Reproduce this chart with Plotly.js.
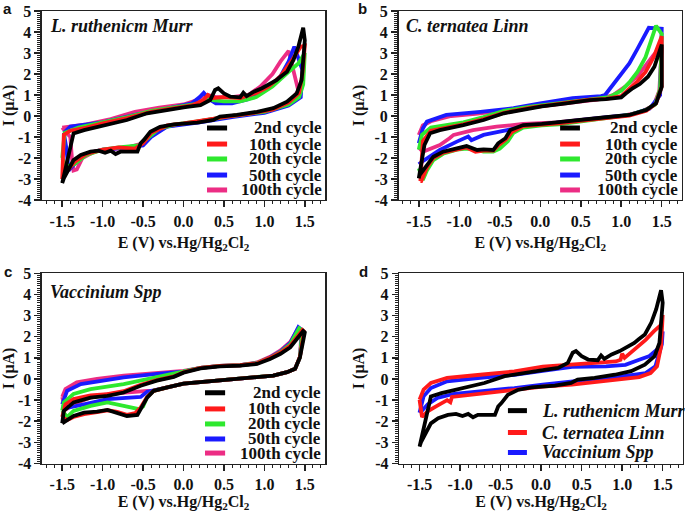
<!DOCTYPE html>
<html>
<head>
<meta charset="utf-8">
<script src="https://cdn.plot.ly/plotly-3.0.1.min.js"></script>
<style>
  html, body { margin: 0; padding: 0; background: #fff; }
  #plot { width: 685px; height: 512px; }
</style>
</head>
<body>
<div id="plot"></div>
<script>
// tick labels (plain hyphen like the original figure)
var eTicks = [-1.5, -1.0, -0.5, 0.0, 0.5, 1.0, 1.5];
var eTickText = ["-1.5", "-1.0", "-0.5", "0.0", "0.5", "1.0", "1.5"];
var iTicks = [-4, -3, -2, -1, 0, 1, 2, 3, 4, 5];
var iTickText = ["-4", "-3", "-2", "-1", "0", "1", "2", "3", "4", "5"];

var cycleNames = ["2nd cycle", "10th cycle", "20th cycle", "50th cycle", "100th cycle"];
var speciesNames = ["L. ruthenicm Murr", "C. ternatea Linn", "Vaccinium Spp"];
var cycleColors = ["#000000", "#ff1a1a", "#2ee82e", "#1a1aff", "#ec2d84"];

// ---- (a) L. ruthenicm Murr ----
var a2E = [-1.50,-1.36,-1.23,-0.94,-0.70,-0.45,-0.12,0.02,0.21,0.33,
           0.39,0.43,0.50,0.58,0.70,0.74,0.78,0.87,0.97,1.07,
           1.15,1.20,1.28,1.36,1.42,1.48,1.50,1.46,1.40,1.28,
           1.11,0.91,0.66,0.45,0.37,0.17,0.02,-0.12,-0.29,-0.41,
           -0.49,-0.53,-0.57,-0.66,-0.78,-0.84,-0.90,-0.97,-1.05,-1.15,
           -1.27,-1.36,-1.42,-1.48,-1.50];
var a2I = [-3.20,-0.83,-0.67,-0.43,-0.19,0.13,0.36,0.42,0.52,0.76,
           1.24,1.32,1.08,0.92,0.89,1.11,0.95,1.16,1.32,1.52,
           1.71,1.87,2.11,2.67,3.30,4.20,3.60,1.71,1.08,0.68,
           0.37,0.20,0.05,-0.03,-0.19,-0.32,-0.38,-0.40,-0.52,-0.75,
           -1.14,-1.30,-1.70,-1.70,-1.70,-1.81,-1.65,-1.75,-1.65,-1.70,
           -1.86,-2.10,-2.50,-2.97,-3.20];
var a10E = [-1.50,-1.48,-1.40,-1.20,-1.00,-0.70,-0.40,-0.10,0.10,0.25,
            0.30,0.36,0.50,0.70,0.90,1.05,1.20,1.35,1.45,1.50,
            1.47,1.43,1.30,1.10,0.80,0.50,0.20,0.00,-0.20,-0.40,
            -0.50,-0.60,-0.80,-1.00,-1.20,-1.35,-1.45,-1.50];
var a10I = [-3.00,-0.90,-0.70,-0.55,-0.35,-0.10,0.20,0.40,0.50,0.75,
            1.00,0.85,0.90,0.85,1.10,1.40,1.90,2.70,3.30,3.35,
            2.00,1.10,0.65,0.30,0.10,-0.05,-0.25,-0.35,-0.45,-0.80,
            -1.30,-1.55,-1.50,-1.60,-1.80,-2.20,-2.70,-3.00];
var a20E = [-1.50,-1.47,-1.30,-1.00,-0.70,-0.40,-0.10,0.20,0.30,0.36,
            0.50,0.70,0.90,1.10,1.30,1.42,1.50,1.48,1.43,1.30,
            1.00,0.60,0.20,-0.10,-0.30,-0.45,-0.55,-0.80,-1.00,-1.20,
            -1.35,-1.45,-1.50];
var a20I = [-2.00,-0.80,-0.55,-0.30,-0.05,0.25,0.42,0.60,0.90,0.75,
            0.70,0.70,0.90,1.40,2.10,2.50,3.00,1.50,0.90,0.55,
            0.20,0.00,-0.25,-0.40,-0.60,-1.10,-1.40,-1.50,-1.60,-1.85,
            -2.30,-2.40,-2.00];
var a50E = [-1.48,-1.40,-1.00,-0.60,-0.20,0.10,0.20,0.25,0.32,0.40,
            0.60,0.80,1.00,1.20,1.30,1.37,1.47,1.45,1.30,1.00,
            0.60,0.20,-0.20,-0.40,-0.50,-0.70,-1.00,-1.20,-1.35,-1.42,
            -1.45,-1.48];
var a50I = [-0.80,-0.50,-0.30,0.05,0.35,0.60,0.90,1.10,0.80,0.60,
            0.60,0.80,1.20,1.90,2.60,3.30,2.20,0.90,0.50,0.15,
            -0.05,-0.30,-0.50,-1.00,-1.40,-1.50,-1.60,-1.80,-2.30,-2.60,
            -1.50,-0.80];
var a100E = [-1.50,-1.20,-0.90,-0.60,-0.30,0.00,0.20,0.30,0.40,0.60,
             0.80,0.95,1.10,1.20,1.30,1.42,1.30,1.00,0.60,0.20,
             -0.20,-0.40,-0.50,-0.70,-0.95,-1.10,-1.25,-1.32,-1.36,-1.38,
             -1.40,-1.50];
var a100I = [-0.55,-0.40,-0.15,0.20,0.40,0.55,0.80,1.00,0.90,0.90,
             1.00,1.40,2.00,2.60,3.10,1.20,0.60,0.20,0.00,-0.25,
             -0.50,-0.90,-1.30,-1.50,-1.60,-1.70,-2.00,-2.55,-2.60,-2.00,
             -1.00,-0.55];

// ---- (b) C. ternatea Linn ----
var b2E = [-1.50,-1.43,-1.36,-1.24,-0.95,-0.70,-0.45,-0.12,0.02,0.32,
           0.61,0.81,1.00,1.06,1.14,1.23,1.33,1.41,1.50,1.50,
           1.43,1.31,1.10,0.81,0.52,0.23,0.02,-0.21,-0.37,-0.43,
           -0.52,-0.58,-0.70,-0.78,-0.91,-1.03,-1.20,-1.32,-1.40,-1.49,
           -1.50];
var b2I = [-2.97,-1.38,-0.82,-0.67,-0.43,-0.19,0.13,0.37,0.46,0.60,
           0.76,0.80,0.89,1.08,1.32,1.52,1.87,2.35,3.40,1.40,
           0.60,0.29,0.05,-0.06,-0.19,-0.32,-0.38,-0.43,-0.67,-1.06,
           -1.30,-1.62,-1.59,-1.62,-1.43,-1.54,-1.70,-1.94,-2.33,-2.81,
           -2.97];
var b10E = [-1.48,-1.45,-1.35,-1.20,-0.95,-0.70,-0.45,-0.12,0.02,0.32,
            0.61,0.81,1.00,1.10,1.20,1.30,1.40,1.50,1.50,1.43,
            1.31,1.10,0.81,0.52,0.23,0.02,-0.21,-0.35,-0.42,-0.52,
            -0.58,-0.70,-0.80,-0.91,-1.03,-1.20,-1.32,-1.40,-1.47,-1.48];
var b10I = [-3.10,-1.20,-0.70,-0.60,-0.40,-0.15,0.15,0.40,0.48,0.62,
            0.78,0.82,0.95,1.30,1.65,2.10,2.80,3.80,1.40,0.60,
            0.25,0.02,-0.08,-0.22,-0.35,-0.40,-0.48,-0.75,-1.10,-1.40,
            -1.65,-1.65,-1.70,-1.50,-1.60,-1.75,-2.00,-2.45,-3.10,-3.10];
var b20E = [-1.50,-1.46,-1.35,-1.20,-0.95,-0.70,-0.45,-0.12,0.10,0.40,
            0.70,0.85,1.00,1.10,1.20,1.30,1.43,1.50,1.48,1.42,
            1.30,1.10,0.81,0.52,0.23,0.02,-0.21,-0.33,-0.40,-0.50,
            -0.58,-0.70,-0.80,-0.91,-1.03,-1.20,-1.32,-1.40,-1.45,-1.50];
var b20I = [-1.60,-0.90,-0.55,-0.45,-0.30,-0.05,0.25,0.45,0.55,0.70,
            0.80,0.90,1.20,1.60,2.10,2.80,4.30,3.90,1.30,0.55,
            0.28,0.05,-0.10,-0.25,-0.40,-0.45,-0.55,-0.80,-1.20,-1.55,
            -1.70,-1.70,-1.60,-1.55,-1.60,-1.80,-2.10,-2.60,-3.05,-2.50];
var b50E = [-1.50,-1.45,-1.40,-1.16,-0.74,-0.33,0.00,0.40,0.75,0.80,
            0.90,1.00,1.10,1.20,1.34,1.50,1.48,1.35,1.10,0.60,
            0.10,-0.20,-0.41,-0.70,-0.85,-0.89,-1.03,-1.24,-1.43,-1.50];
var b50I = [-1.30,-0.60,-0.27,0.05,0.20,0.37,0.60,0.85,0.95,1.00,
            1.50,2.00,2.50,3.20,4.20,4.15,1.00,0.35,0.05,-0.15,
            -0.35,-0.50,-0.67,-0.90,-1.15,-0.98,-1.22,-1.62,-2.10,-2.30];
var b100E = [-1.50,-1.45,-1.35,-1.10,-0.80,-0.45,-0.12,0.10,0.40,0.70,
             0.90,1.05,1.20,1.30,1.40,1.50,1.47,1.40,1.25,1.00,
             0.60,0.20,-0.21,-0.54,-0.83,-1.07,-1.12,-1.24,-1.45,-1.50];
var b100I = [-0.90,-0.45,-0.25,0.00,0.10,0.25,0.42,0.52,0.65,0.78,
             1.00,1.40,1.90,2.40,2.90,3.30,1.20,0.50,0.20,0.00,
             -0.15,-0.30,-0.38,-0.51,-0.67,-0.90,-1.06,-1.38,-1.70,-1.50];

// ---- (c) Vaccinium Spp ----
var c2E = [-1.50,-1.48,-1.36,-1.15,-0.94,-0.74,-0.53,-0.33,-0.12,0.00,
           0.21,0.45,0.70,0.91,1.07,1.20,1.32,1.40,1.48,1.50,
           1.44,1.38,1.28,1.11,0.78,0.45,0.21,0.00,-0.20,-0.37,
           -0.45,-0.53,-0.57,-0.70,-0.82,-0.94,-1.07,-1.23,-1.36,-1.44,
           -1.50];
var c2I = [-2.10,-1.51,-1.11,-0.88,-0.80,-0.64,-0.32,-0.08,0.10,0.30,
           0.50,0.60,0.63,0.71,0.95,1.19,1.50,1.90,2.27,2.20,
           1.03,0.48,0.32,0.16,0.05,-0.05,-0.11,-0.22,-0.40,-0.56,
           -0.88,-1.43,-1.70,-1.75,-1.59,-1.46,-1.54,-1.59,-1.75,-1.98,
           -2.10];
var c10E = [-1.50,-1.46,-1.36,-1.15,-0.94,-0.74,-0.53,-0.33,-0.12,0.00,
            0.21,0.45,0.70,0.91,1.07,1.20,1.32,1.40,1.47,1.49,
            1.44,1.38,1.28,1.11,0.78,0.45,0.21,0.00,-0.20,-0.37,
            -0.45,-0.53,-0.60,-0.70,-0.82,-0.94,-1.07,-1.23,-1.36,-1.44,
            -1.50];
var c10I = [-1.80,-1.20,-0.95,-0.78,-0.72,-0.58,-0.28,-0.05,0.12,0.32,
            0.52,0.62,0.65,0.74,1.00,1.25,1.58,1.98,2.32,2.25,
            1.05,0.48,0.32,0.16,0.05,-0.05,-0.11,-0.22,-0.40,-0.56,
            -0.85,-1.35,-1.62,-1.70,-1.55,-1.48,-1.57,-1.66,-1.80,-1.95,
            -1.80];
var c20E = [-1.50,-1.48,-1.36,-1.15,-0.74,-0.33,0.00,0.21,0.45,0.70,
            0.91,1.07,1.20,1.32,1.43,1.47,1.44,1.38,1.28,1.11,
            0.78,0.45,0.00,-0.20,-0.37,-0.45,-0.50,-0.55,-0.74,-0.94,
            -1.15,-1.36,-1.44,-1.50];
var c20I = [-1.50,-1.11,-0.71,-0.48,-0.24,0.08,0.32,0.52,0.62,0.65,
            0.75,1.00,1.28,1.65,2.40,2.30,1.03,0.48,0.32,0.16,
            0.05,-0.05,-0.22,-0.40,-0.56,-0.85,-1.30,-1.43,-1.27,-1.11,
            -1.27,-1.51,-1.80,-1.50];
var c50E = [-1.50,-1.44,-1.27,-1.03,-0.74,-0.33,0.00,0.21,0.45,0.70,
            0.91,1.07,1.20,1.32,1.42,1.47,1.44,1.38,1.28,1.11,
            0.78,0.45,0.00,-0.20,-0.37,-0.45,-0.53,-0.66,-0.94,-1.23,
            -1.42,-1.50];
var c50I = [-1.20,-0.56,-0.24,-0.08,0.08,0.24,0.35,0.52,0.62,0.65,
            0.75,1.02,1.30,1.70,2.45,2.30,1.03,0.48,0.32,0.16,
            0.05,-0.05,-0.22,-0.40,-0.56,-0.60,-0.85,-0.88,-0.95,-1.20,
            -1.35,-1.20];
var c100E = [-1.50,-1.46,-1.32,-1.07,-0.74,-0.33,0.00,0.21,0.45,0.70,
             0.91,1.07,1.20,1.32,1.42,1.46,1.44,1.38,1.28,1.11,
             0.78,0.45,0.00,-0.20,-0.37,-0.45,-0.66,-0.94,-1.15,-1.36,
             -1.46,-1.50];
var c100I = [-0.85,-0.48,-0.16,0.00,0.16,0.30,0.38,0.52,0.62,0.65,
             0.78,1.05,1.35,1.75,2.40,2.30,1.03,0.48,0.32,0.16,
             0.05,-0.05,-0.22,-0.40,-0.56,-0.56,-0.64,-0.72,-0.88,-1.20,
             -1.45,-0.85];

// ---- (d) comparison: black = (a) 2nd cycle ----
var dCtE = [-1.50,-1.45,-1.36,-1.16,-0.75,-0.33,0.02,0.22,0.46,0.71,
            0.92,0.98,1.00,1.03,1.17,1.29,1.39,1.48,1.50,1.48,
            1.43,1.35,1.21,0.80,0.38,0.02,-0.29,-0.66,-0.95,-1.10,
            -1.12,-1.16,-1.28,-1.40,-1.47,-1.50];
var dCtI = [-0.98,-0.50,-0.19,0.05,0.20,0.36,0.58,0.63,0.72,0.75,
            0.83,0.91,1.20,1.00,1.46,1.85,2.25,2.56,3.03,1.54,
            0.60,0.28,0.09,-0.11,-0.27,-0.36,-0.50,-0.63,-0.79,-0.85,
            -1.10,-1.00,-1.26,-1.53,-1.80,-0.98];
var dVsE = [-1.50,-1.45,-1.36,-1.16,-0.75,-0.33,0.02,0.38,0.80,1.04,
            1.21,1.33,1.45,1.50,1.49,1.41,1.29,1.00,0.59,0.22,
            0.02,-0.33,-0.75,-1.07,-1.28,-1.40,-1.47,-1.50];
var dVsI = [-1.60,-0.82,-0.43,-0.11,0.05,0.20,0.38,0.57,0.60,0.67,
            0.91,1.07,1.46,2.25,1.65,0.60,0.28,0.12,-0.03,-0.16,
            -0.27,-0.43,-0.59,-0.70,-0.90,-1.21,-1.50,-1.60];

var serif = '"Liberation Serif", "Times New Roman", serif';

function cv(E, I, color, n) {
    var s = n === 1 ? "" : String(n);
    return {
        x: E, y: I, xaxis: "x" + s, yaxis: "y" + s,
        type: "scatter", mode: "lines",
        line: { color: color, width: 3.8 },
        hoverinfo: "skip", showlegend: false
    };
}

var panels = [
    [[a2E, a2I], [a10E, a10I], [a20E, a20I], [a50E, a50I], [a100E, a100I]],
    [[b2E, b2I], [b10E, b10I], [b20E, b20I], [b50E, b50I], [b100E, b100I]],
    [[c2E, c2I], [c10E, c10I], [c20E, c20I], [c50E, c50I], [c100E, c100I]]
];

var traces = [];
panels.forEach(function (p, k) {
    // draw 100th first so the 2nd cycle ends up on top
    for (var j = p.length - 1; j >= 0; j--) {
        traces.push(cv(p[j][0], p[j][1], cycleColors[j], k + 1));
    }
});
var dColors = ["#000000", "#ff1a1a", "#1a1aff"];
var dData = [[a2E, a2I], [dCtE, dCtI], [dVsE, dVsI]];
for (var j = dData.length - 1; j >= 0; j--) {
    traces.push(cv(dData[j][0], dData[j][1], dColors[j], 4));
}

function xAxis(dom, anchor) {
    return {
        domain: dom, anchor: anchor, range: [-1.75, 1.75],
        tickmode: "array", tickvals: eTicks, ticktext: eTickText,
        ticks: "outside", ticklen: 6, tickwidth: 1.5, tickcolor: "#222",
        minor: { dtick: 0.1, tick0: 0, ticks: "outside", ticklen: 3, tickwidth: 1, tickcolor: "#222" },
        showline: true, linewidth: 1.5, linecolor: "#222", mirror: true,
        showgrid: false, zeroline: false,
        tickfont: { family: serif, size: 16, weight: "bold", color: "#111" },
        title: { text: "E (V) vs.Hg/Hg<sub>2</sub>Cl<sub>2</sub>",
                 font: { family: serif, size: 16, weight: "bold", color: "#111" }, standoff: 8 }
    };
}
function yAxis(dom, anchor) {
    return {
        domain: dom, anchor: anchor, range: [-4, 5],
        tickmode: "array", tickvals: iTicks, ticktext: iTickText,
        ticks: "outside", ticklen: 6, tickwidth: 1.5, tickcolor: "#222",
        minor: { dtick: 0.1, tick0: 0, ticks: "outside", ticklen: 3, tickwidth: 1, tickcolor: "#222" },
        showline: true, linewidth: 1.5, linecolor: "#222", mirror: true,
        showgrid: false, zeroline: false,
        tickfont: { family: serif, size: 16, weight: "bold", color: "#111" },
        title: { text: "I (\u03bcA)",
                 font: { family: serif, size: 16, weight: "bold", color: "#111" }, standoff: 6 }
    };
}

var topRow = [0.6094, 0.9785], botRow = [0.0947, 0.4662];
var leftCol = [0.0613, 0.4745], rightCol = [0.5818, 0.9956];

var annotations = [];
var shapes = [];

// panel letters
[["a", 8, 8], ["b", 362, 8], ["c", 8, 271], ["d", 363, 271]].forEach(function (l) {
    annotations.push({
        text: l[0], xref: "paper", yref: "paper", x: l[1] / 685, y: 1 - l[2] / 512,
        xanchor: "center", yanchor: "middle", showarrow: false,
        font: { family: '"Liberation Sans", Arial, sans-serif', size: 15, weight: "bold", color: "#111" }
    });
});

// species names inside panels a-c
[["", 0.02, 0.92], ["2", 0.02, 0.92], ["3", 0.02, 0.90]].forEach(function (t, k) {
    annotations.push({
        text: speciesNames[k], xref: "x" + t[0] + " domain", yref: "y" + t[0] + " domain",
        x: t[1], y: t[2], xanchor: "left", yanchor: "middle", showarrow: false,
        font: { family: serif, size: 18, weight: "bold", style: "italic", color: "#111" }
    });
});

// cycle keys for a-c (text right aligned like the figure)
var keySpec = [
    { ax: "", line: [0.583, 0.654], tx: 0.993, rows: [0.381, 0.296, 0.217, 0.132, 0.053] },
    { ax: "2", line: [0.570, 0.640], tx: 0.990, rows: [0.381, 0.296, 0.217, 0.132, 0.053] },
    { ax: "3", line: [0.576, 0.647], tx: 0.990, rows: [0.372, 0.287, 0.208, 0.129, 0.055] }
];
keySpec.forEach(function (k) {
    cycleNames.forEach(function (name, j) {
        shapes.push({
            type: "line", xref: "x" + k.ax + " domain", yref: "y" + k.ax + " domain",
            x0: k.line[0], x1: k.line[1], y0: k.rows[j], y1: k.rows[j],
            line: { color: cycleColors[j], width: 5 }
        });
        annotations.push({
            text: name, xref: "x" + k.ax + " domain", yref: "y" + k.ax + " domain",
            x: k.tx, y: k.rows[j], xanchor: "right", yanchor: "middle", showarrow: false,
            borderpad: 0,
            font: { family: serif, size: 17, weight: "bold", color: "#111" }
        });
    });
});
// key for d
var dRows = [0.278, 0.163, 0.058];
speciesNames.forEach(function (name, j) {
    shapes.push({
        type: "line", xref: "x4 domain", yref: "y4 domain",
        x0: 0.383, x1: 0.450, y0: dRows[j], y1: dRows[j],
        line: { color: dColors[j], width: 5 }
    });
    annotations.push({
        text: name, xref: "x4 domain", yref: "y4 domain",
        x: 0.496, y: dRows[j], xanchor: "left", yanchor: "middle", showarrow: false,
        font: { family: serif, size: 18, weight: "bold", style: "italic", color: "#111" }
    });
});

var layout = {
    width: 685, height: 512,
    margin: { l: 0, r: 0, t: 0, b: 0 },
    paper_bgcolor: "#fff", plot_bgcolor: "#fff",
    showlegend: false,
    xaxis: xAxis(leftCol, "y"), yaxis: yAxis(topRow, "x"),
    xaxis2: xAxis(rightCol, "y2"), yaxis2: yAxis(topRow, "x2"),
    xaxis3: xAxis(leftCol, "y3"), yaxis3: yAxis(botRow, "x3"),
    xaxis4: xAxis([0.5829, 0.997], "y4"), yaxis4: yAxis(botRow, "x4"),
    annotations: annotations,
    shapes: shapes
};

Plotly.newPlot("plot", traces, layout, { staticPlot: true });
</script>
</body>
</html>
